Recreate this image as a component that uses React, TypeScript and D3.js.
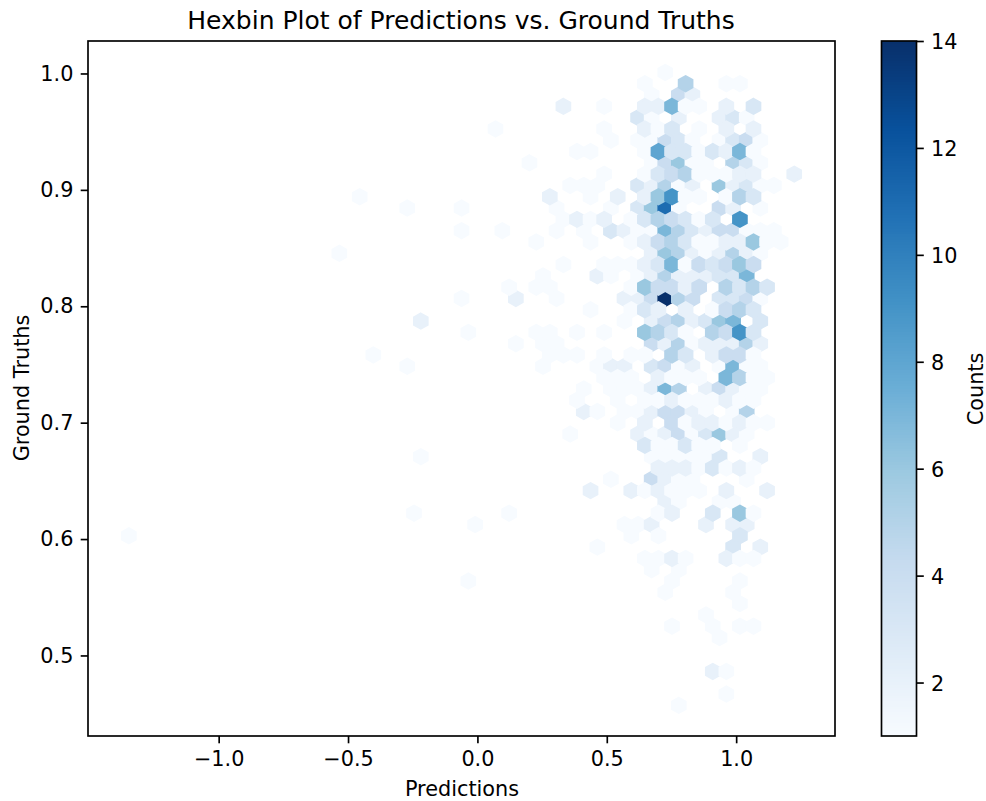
// App.tsx
import React, { useEffect, useRef } from 'react';
import * as d3 from 'd3';

// Hexbin lattice: bin row, then the bin columns filled in that row, then their counts
const binRows = [-20, -19, -18, -17, -16, -15, -14, -13, -12, -11, -10, -9, -8, -7, -6, -5, -4, -3, -2, -1, 0, 1, 2, 3, 4, 5, 6, 7, 8, 9, 10, 11, 12, 13, 14, 15, 16, 17, 18, 19, 20, 21, 22, 23, 24, 25, 26, 27, 28, 29, 30, 33, 35, 36];
const binCols = [
  [0],
  [-3, 3, 9, 11],
  [-2, 2, 4],
  [-15, -9, -3, -1, 1, 3, 5, 9, 13],
  [-4, -2, 2, 8, 10, 12],
  [-25, -9, -3, -1, 1, 5, 9, 13],
  [-8, -4, -2, 0, 2, 4, 8, 10, 12, 14],
  [-13, -11, -3, -1, 1, 3, 5, 7, 9, 11, 13],
  [-20, -2, 0, 2, 4, 6, 10, 12, 14],
  [-9, -3, -1, 1, 3, 5, 7, 9, 11, 13, 19],
  [-14, -12, -10, -4, -2, 0, 2, 4, 8, 10, 12, 14, 16],
  [-45, -17, -11, -7, -3, -1, 1, 3, 5, 9, 11, 13],
  [-38, -30, -16, -8, -4, -2, 0, 2, 8, 10, 14],
  [-15, -13, -11, -9, -5, -3, -1, 1, 3, 5, 7, 11],
  [-30, -24, -16, -12, -8, -6, -4, -2, 0, 2, 4, 6, 8, 10, 12, 14, 16],
  [-19, -11, -5, -3, -1, 1, 3, 5, 7, 9, 11, 13, 15, 17],
  [-48, -2, 0, 2, 4, 6, 8, 10, 12, 14],
  [-15, -9, -7, -5, -3, -1, 1, 3, 5, 7, 9, 11, 13],
  [-18, -10, -8, -4, -2, 0, 2, 4, 6, 8, 10, 12],
  [-23, -19, -17, -5, -3, -1, 1, 3, 5, 9, 11, 13, 15],
  [-30, -22, -16, -6, -4, -2, 0, 2, 4, 8, 10, 12, 14],
  [-11, -5, -3, -1, 3, 7, 9, 11, 13],
  [-36, -6, -2, 0, 2, 4, 6, 8, 10, 14],
  [-29, -19, -17, -13, -9, -3, -1, 1, 3, 7, 9, 11, 13],
  [-22, -18, -16, -2, 0, 2, 4, 6, 8, 10, 12, 14],
  [-43, -17, -15, -13, -9, -5, -3, 1, 3, 7, 9, 11, 13],
  [-38, -18, -10, -8, -6, -2, 0, 2, 4, 8, 10, 12, 14],
  [-9, -7, -5, -1, 1, 3, 5, 9, 11, 13, 15],
  [-12, -8, -6, -4, -2, 0, 2, 6, 8, 10, 12, 14],
  [-13, -7, -3, -1, 1, 3, 5, 7, 9, 11, 13],
  [-12, -10, -6, -4, -2, 0, 2, 4, 6, 10, 12],
  [-7, -3, 1, 3, 5, 7, 9, 11, 13, 15],
  [-14, -4, -2, 0, 2, 4, 6, 8, 10, 12],
  [-3, -1, 1, 3, 5, 7, 11],
  [-36, -2, 0, 2, 4, 6, 8, 14],
  [-1, 1, 3, 5, 7, 9, 11, 13],
  [-8, -2, 0, 2, 4, 12],
  [-11, -5, -3, -1, 1, 3, 5, 9, 15],
  [0, 2, 8, 10],
  [-37, -23, -1, 1, 7, 11, 13],
  [-28, -6, -4, -2, 6, 10, 12],
  [-79, -5, -1, 11],
  [-10, 10, 14],
  [-3, -1, 1, 3, 9, 11, 13],
  [-2, 2],
  [-29, 1, 11],
  [0, 10],
  [11],
  [6],
  [1, 7, 11, 13],
  [8],
  [7, 9],
  [9],
  [2],
];
const binCounts = [
  [1],
  [1, 5, 1, 1],
  [1, 4, 2],
  [2, 1, 2, 2, 7, 1, 1, 2, 3],
  [3, 1, 2, 2, 3, 1],
  [1, 1, 2, 1, 3, 1, 2, 2],
  [1, 1, 1, 4, 3, 1, 1, 3, 4, 1],
  [1, 1, 1, 8, 3, 3, 1, 3, 2, 7, 1],
  [1, 1, 4, 6, 1, 1, 5, 3, 1],
  [1, 1, 3, 4, 5, 1, 1, 1, 2, 2, 2],
  [1, 1, 1, 3, 2, 5, 1, 2, 6, 2, 3, 1, 1],
  [1, 2, 1, 2, 2, 6, 9, 1, 1, 1, 5, 3],
  [1, 1, 1, 1, 3, 6, 11, 1, 4, 2, 1],
  [1, 2, 1, 2, 1, 3, 5, 4, 3, 1, 3, 9],
  [1, 1, 1, 1, 3, 2, 1, 1, 7, 5, 3, 2, 4, 4, 1, 1, 1],
  [1, 1, 1, 2, 4, 5, 3, 1, 1, 2, 2, 6, 1, 1],
  [1, 2, 6, 5, 2, 1, 2, 5, 2, 1],
  [1, 1, 1, 1, 2, 3, 7, 1, 4, 3, 4, 6, 4],
  [1, 2, 1, 1, 2, 5, 2, 2, 2, 3, 3, 7],
  [1, 1, 1, 1, 6, 4, 4, 2, 4, 5, 3, 5, 3],
  [1, 2, 1, 2, 2, 4, 14, 5, 4, 3, 3, 4, 1],
  [1, 1, 3, 2, 2, 1, 4, 5, 3],
  [2, 1, 2, 4, 5, 2, 3, 6, 7, 3],
  [1, 1, 1, 1, 1, 6, 5, 3, 1, 5, 4, 9, 3],
  [1, 1, 1, 4, 2, 5, 1, 2, 2, 2, 5, 2],
  [1, 1, 1, 1, 1, 1, 1, 5, 3, 2, 4, 4, 1],
  [1, 1, 1, 2, 2, 3, 4, 1, 2, 1, 7, 1, 1],
  [1, 1, 1, 2, 1, 1, 1, 7, 5, 1, 1],
  [1, 1, 1, 1, 2, 7, 5, 2, 4, 2, 1, 1],
  [1, 1, 1, 1, 2, 1, 1, 1, 2, 1, 1],
  [2, 1, 1, 1, 2, 4, 4, 2, 1, 1, 5],
  [1, 2, 4, 1, 2, 2, 1, 2, 1, 1],
  [1, 2, 1, 2, 4, 1, 3, 6, 2, 1],
  [3, 1, 1, 3, 1, 1, 1],
  [1, 1, 1, 1, 1, 1, 3, 2],
  [2, 2, 2, 1, 3, 1, 2, 1],
  [1, 4, 2, 1, 1, 1],
  [2, 2, 1, 2, 1, 1, 1, 2, 2],
  [2, 1, 1, 1],
  [1, 1, 1, 2, 3, 6, 1],
  [1, 1, 1, 2, 2, 2, 2],
  [1, 1, 1, 3],
  [1, 3, 2],
  [1, 1, 2, 1, 2, 1, 1],
  [1, 1],
  [1, 1, 1],
  [1, 1],
  [1],
  [1],
  [1, 1, 1, 1],
  [1],
  [2, 1],
  [1],
  [1],
];

// Lattice origin and half-step in data units
const xOrigin = 0.7259;
const xHalfStep = 0.02624;
const yOrigin = 0.8067;
const yStep = -0.00971;

const xDomain = [-1.505, 1.382];
const yDomain = [0.4308, 1.0279];
const countDomain = [1, 14];
const xTicks = [-1.0, -0.5, 0.0, 0.5, 1.0];
const yTicks = [0.5, 0.6, 0.7, 0.8, 0.9, 1.0];
const countTicks = [2, 4, 6, 8, 10, 12, 14];

const FONT = '"DejaVu Sans", sans-serif';

const App = () => {
  const svgRef = useRef<SVGSVGElement>(null);

  useEffect(() => {
    const svg = d3.select(svgRef.current);
    svg.selectAll('*').remove();

    const width = 986;
    const height = 801;
    const margin = { top: 41, right: 835, bottom: 736, left: 88 };
    const bar = { left: 881.5, right: 916.5 };
    const lineW = 1.67;
    const tickLen = 7.3;

    const x = d3.scaleLinear().domain(xDomain).range([margin.left, margin.right]);
    const y = d3.scaleLinear().domain(yDomain).range([margin.bottom, margin.top]);
    const c = d3.scaleLinear().domain(countDomain).range([margin.bottom, margin.top]);
    const color = d3.scaleSequential(d3.piecewise(d3.interpolateRgb, d3.schemeBlues[9])).domain(countDomain);

    svg.append('rect').attr('width', width).attr('height', height).attr('fill', 'white');

    // flatten the rows; matplotlib paints the even lattice first and then the odd one
    const bins = binRows.flatMap((row, i) =>
      binCols[i].map((col, j) => ({
        row,
        px: xOrigin + col * xHalfStep,
        gt: yOrigin + row * yStep,
        count: binCounts[i][j],
      }))
    );
    const ordered = [
      ...bins.filter(d => d.row % 2 === 0),
      ...bins.filter(d => d.row % 2 !== 0),
    ];

    // hexagon outline from the lattice steps
    const halfW = Math.abs(x(xHalfStep) - x(0));
    const rad = (Math.abs(y(yStep) - y(0)) * 2) / 3;
    const outline: [number, number][] = [
      [0, -rad],
      [halfW, -rad / 2],
      [halfW, rad / 2],
      [0, rad],
      [-halfW, rad / 2],
      [-halfW, -rad / 2],
    ];
    const hexPath = d3.line().curve(d3.curveLinearClosed)(outline);

    svg.append('g')
      .selectAll('path')
      .data(ordered)
      .join('path')
      .attr('d', hexPath)
      .attr('transform', d => `translate(${x(d.px)},${y(d.gt)})`)
      .attr('fill', d => color(d.count))
      .attr('stroke', d => color(d.count))
      .attr('stroke-width', 2.08);

    // Axes
    const xAxis = d3.axisBottom(x).tickValues(xTicks)
      .tickFormat(d => d3.format('.1f')(d).replace('-', '\u2212'))
      .tickSizeOuter(0).tickSize(tickLen).tickPadding(tickLen);
    const yAxis = d3.axisLeft(y).tickValues(yTicks)
      .tickFormat(d3.format('.1f'))
      .tickSizeOuter(0).tickSize(tickLen).tickPadding(tickLen);
    const cAxis = d3.axisRight(c).tickValues(countTicks)
      .tickFormat(d3.format('d'))
      .tickSizeOuter(0).tickSize(tickLen).tickPadding(tickLen);

    const styleAxis = g => {
      g.select('.domain').remove();
      g.selectAll('line').attr('stroke', 'black').attr('stroke-width', lineW);
      g.selectAll('text').attr('fill', 'black').style('font-family', FONT).style('font-size', '20.8px');
    };
    const nudgeText = g => g.selectAll('text').attr('transform', 'translate(0,1)');

    svg.append('g').attr('transform', `translate(0,${margin.bottom})`).call(xAxis).call(styleAxis).call(nudgeText);
    svg.append('g').attr('transform', `translate(${margin.left},0)`).call(yAxis).call(styleAxis);

    // Plot frame
    svg.append('rect')
      .attr('x', margin.left).attr('y', margin.top)
      .attr('width', margin.right - margin.left).attr('height', margin.bottom - margin.top)
      .attr('fill', 'none').attr('stroke', 'black').attr('stroke-width', lineW);

    // Colorbar, painted as thin bands snapped to whole pixels so no seams show
    const barH = margin.bottom - margin.top;
    const bandLevels = d3.range(0, 256).map(i => countDomain[0] + ((countDomain[1] - countDomain[0]) * i) / 255);
    svg.append('g')
      .attr('shape-rendering', 'crispEdges')
      .selectAll('rect')
      .data(bandLevels)
      .join('rect')
      .attr('x', bar.left)
      .attr('width', bar.right - bar.left)
      .attr('y', (d, i) => Math.floor(margin.bottom - ((i + 1) * barH) / 256))
      .attr('height', (d, i) => Math.ceil(margin.bottom - (i * barH) / 256) - Math.floor(margin.bottom - ((i + 1) * barH) / 256))
      .attr('fill', d => color(d));

    svg.append('rect')
      .attr('x', bar.left).attr('y', margin.top)
      .attr('width', bar.right - bar.left).attr('height', barH)
      .attr('fill', 'none').attr('stroke', 'black').attr('stroke-width', lineW);

    svg.append('g').attr('transform', `translate(${bar.right},0)`).call(cAxis).call(styleAxis).call(nudgeText);

    // Labels
    const label = (text, lx, ly, size, rotate = 0) =>
      svg.append('text')
        .attr('transform', `translate(${lx},${ly}) rotate(${rotate})`)
        .attr('text-anchor', 'middle')
        .attr('fill', 'black')
        .style('font-family', FONT)
        .style('font-size', `${size}px`)
        .text(text);

    label('Hexbin Plot of Predictions vs. Ground Truths', 461, 29, 25);
    label('Predictions', 462, 796, 20.8);
    label('Ground Truths', 29, 388, 20.8, -90);
    label('Counts', 983, 389, 20.8, -90);
  }, []);

  return <svg ref={svgRef} width={986} height={801} style={{ position: 'absolute', left: 0, top: 0 }}></svg>;
};

export default App;
